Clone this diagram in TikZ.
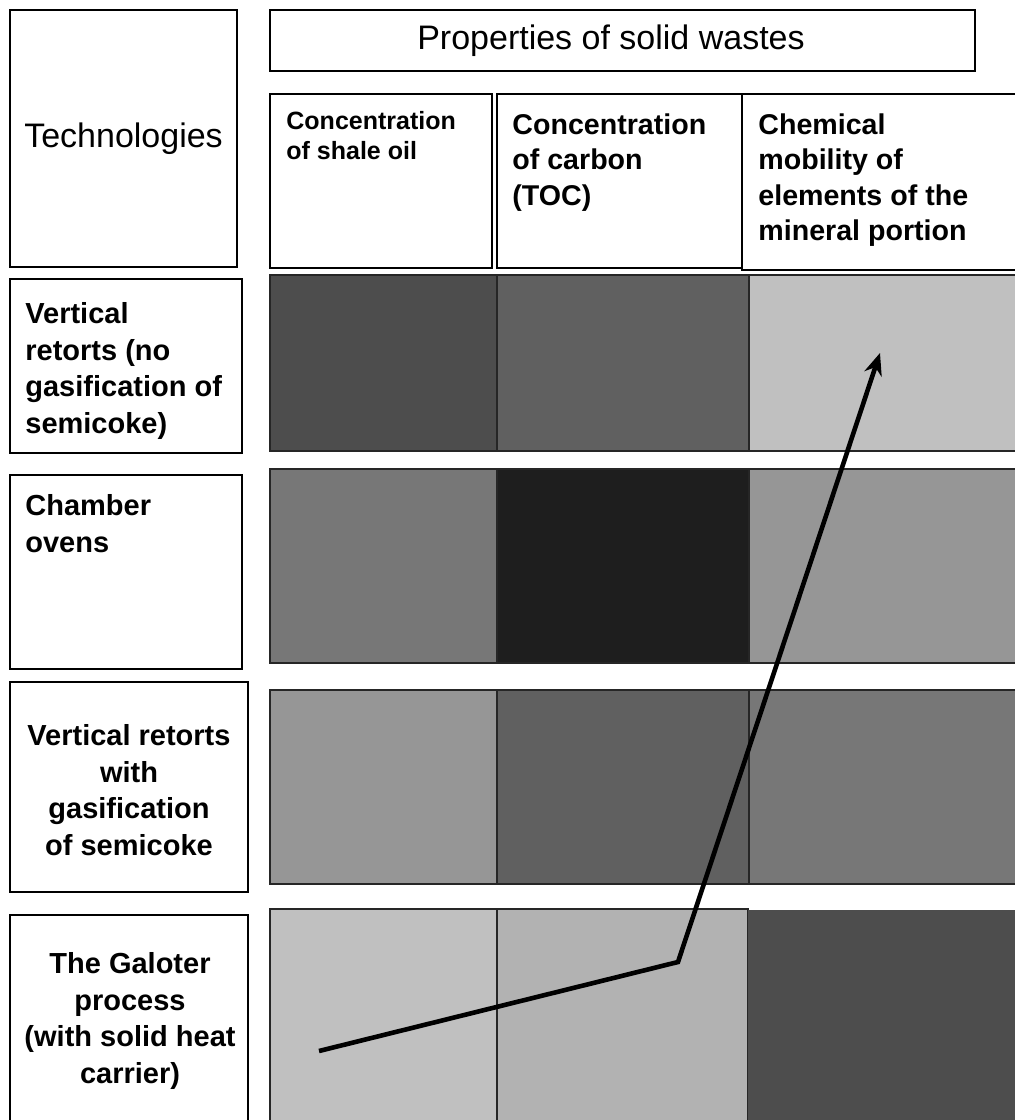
\documentclass[tikz,border=0pt]{standalone}
\usepackage{fontspec}
\setmainfont{Liberation Sans}
\usetikzlibrary{arrows.meta}
\tikzset{>={Stealth[length=11pt,width=9pt]}}
\definecolor{shadeA}{HTML}{4D4D4D}
\definecolor{shadeB}{HTML}{606060}
\definecolor{shadeC}{HTML}{C0C0C0}
\definecolor{shadeD}{HTML}{777777}
\definecolor{shadeE}{HTML}{1E1E1E}
\definecolor{shadeF}{HTML}{969696}
\definecolor{shadeG}{HTML}{B2B2B2}
\tikzset{
  frame/.style={draw, line width=0.7pt, anchor=north west, inner sep=0pt, outer sep=0pt},
  cell/.style={draw=black!85, line width=0.6pt, anchor=north west, inner sep=0pt, outer sep=0pt},
  lefttext/.style={anchor=north west, align=left, inner sep=0pt, font=\bfseries\fontsize{14.5}{18.3}\selectfont},
  midtext/.style={align=center, inner sep=0pt, font=\bfseries\fontsize{14.5}{18.3}\selectfont},
  headtext/.style={anchor=north west, align=left, inner sep=0pt, font=\bfseries\fontsize{14.3}{17.8}\selectfont}
}

\begin{document}
\begin{tikzpicture}[x=0.5pt, y=-0.5pt]
  \useasboundingbox (0,0) rectangle (1015,1120);

  % headings
  \node (techbox) at (10,10) [frame, minimum width=113.5pt, minimum height=128.5pt] {};
  \node (techtext) at (123.5,139) [font=\fontsize{17}{20}\selectfont] {Technologies};
  \node (titlebox) at (270,10) [frame, minimum width=352.5pt, minimum height=30.5pt] {};
  \node (titletext) at (611,41) [font=\fontsize{17}{20}\selectfont] {Properties of solid wastes};

  \node (oilbox) at (270,94) [frame, minimum width=111pt, minimum height=87pt] {};
  \node (oiltext) at (286,111) [headtext, font=\bfseries\fontsize{12.5}{15}\selectfont] {Concentration\\of shale oil};
  \node (carbonbox) at (497,94) [frame, minimum width=122.5pt, minimum height=87pt] {};
  \node (carbontext) at (512,113) [headtext] {Concentration\\of carbon\\(TOC)};
  \node (mobilitybox) at (742,94) [frame, minimum width=140pt, minimum height=88pt] {};
  \node (mobilitytext) at (758,113) [headtext] {Chemical\\mobility of\\elements of the\\mineral portion};

  % technologies
  \node (vretbox) at (10,279) [frame, minimum width=116pt, minimum height=87pt] {};
  \node (vrettext) at (25,302) [lefttext] {Vertical\\retorts (no\\gasification of\\semicoke)};
  \node (ovenbox) at (10,475) [frame, minimum width=116pt, minimum height=97pt] {};
  \node (oventext) at (25,494) [lefttext] {Chamber\\ovens};
  \node (gasbox) at (10,682) [frame, minimum width=119pt, minimum height=105pt] {};
  \node (gastext) at (129,790) [midtext] {Vertical retorts\\with\\gasification\\of semicoke};
  \node (galoterbox) at (10,915) [frame, minimum width=119pt, minimum height=110pt] {};
  \node (galotertext) at (130,1021) [midtext] {The Galoter\\process\\(with solid heat\\carrier)};

  % shaded cells
  \node (vretoil) at (270,275) [cell, fill=shadeA, minimum width=113.5pt, minimum height=88pt] {};
  \node (vretcarbon) at (497,275) [cell, fill=shadeB, minimum width=126pt, minimum height=88pt] {};
  \node (vretmob) at (749,275) [cell, fill=shadeC, minimum width=140pt, minimum height=88pt] {};
  \node (ovenoil) at (270,469) [cell, fill=shadeD, minimum width=113.5pt, minimum height=97pt] {};
  \node (ovencarbon) at (497,469) [cell, fill=shadeE, minimum width=126pt, minimum height=97pt] {};
  \node (ovenmob) at (749,469) [cell, fill=shadeF, minimum width=140pt, minimum height=97pt] {};
  \node (gasoil) at (270,690) [cell, fill=shadeF, minimum width=113.5pt, minimum height=97pt] {};
  \node (gascarbon) at (497,690) [cell, fill=shadeB, minimum width=126pt, minimum height=97pt] {};
  \node (gasmob) at (749,690) [cell, fill=shadeD, minimum width=140pt, minimum height=97pt] {};
  \node (galoteroil) at (270,909) [cell, fill=shadeC, minimum width=113.5pt, minimum height=110pt] {};
  \node (galotercarbon) at (497,909) [cell, fill=shadeG, minimum width=125.5pt, minimum height=110pt] {};
  \node (galotermob) at (748,910) [cell, draw=none, fill=shadeA, minimum width=140pt, minimum height=110pt] {};

  % trend
  \coordinate (trendstart) at (319,1051);
  \coordinate (trendbend) at (678,962);
  \coordinate (trendend) at (880,353);
  \draw[->, line width=2.3pt] (trendstart) -- (trendbend) -- (trendend);
\end{tikzpicture}
\end{document}
